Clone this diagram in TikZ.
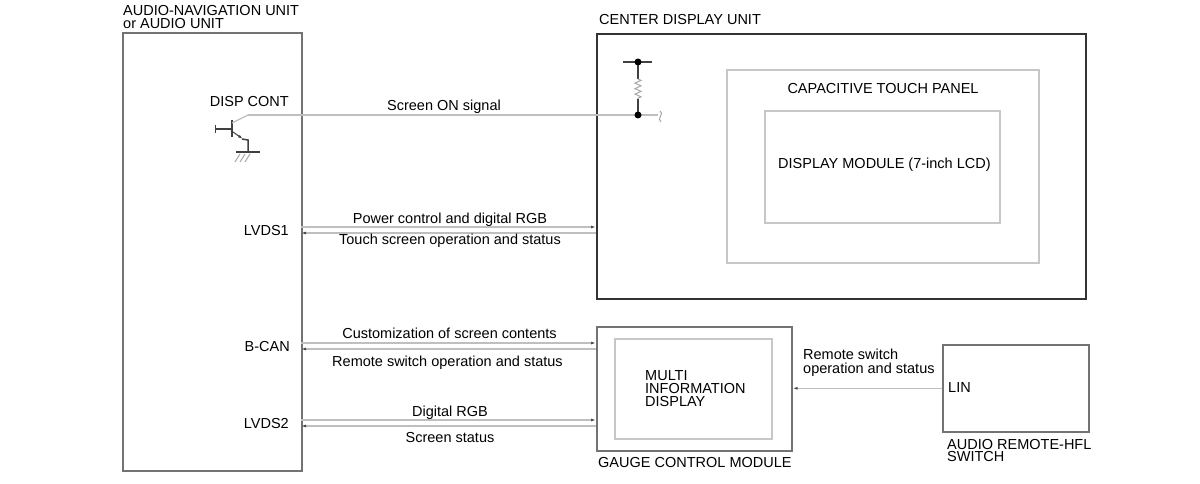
\documentclass[tikz,border=0pt]{standalone}
\usepackage{fontspec}
\setmainfont{Liberation Sans}
\usetikzlibrary{calc}
\usetikzlibrary{arrows.meta}
\usetikzlibrary{decorations.pathmorphing}
\tikzset{>=latex}
\tikzstyle{unit} = [draw = black!55, line width = 1.6pt, inner sep = 0, anchor = north west]
\tikzstyle{panel} = [draw = black!22, line width = 1.6pt, inner sep = 0, anchor = north west]
\tikzstyle{lbl} = [draw = none, inner sep = 0]
\tikzstyle{sig} = [draw = black!25, line width = 1.3pt]
\tikzstyle{tip} = [-{Latex[length = 5pt, width = 3pt, color = black!70]}]
\tikzstyle{part} = [draw = black!75, line width = 1.5pt]

\begin{document}
\begin{tikzpicture}[x = 1pt, y = -1pt, font = \fontsize{14.5}{14}\selectfont]
\useasboundingbox (0, 0) rectangle (1200, 484);
\node [unit, minimum width = 179pt, minimum height = 438pt] (ANU) at (122, 32) {};
\node [unit, draw = black!80, line width = 2pt, minimum width = 489pt, minimum height = 265pt] (CDU) at (596, 33) {};
\node [panel, minimum width = 312pt, minimum height = 193pt] (CTP) at (726, 69) {};
\node [panel, minimum width = 235pt, minimum height = 112pt] (DM) at (764, 110) {};
\node [unit, minimum width = 195pt, minimum height = 124pt] (GCM) at (596, 326) {};
\node [panel, minimum width = 157pt, minimum height = 100pt] (MID) at (614, 338) {};
\node [unit, minimum width = 146pt, minimum height = 87pt] (ARS) at (942, 344) {};

\node [lbl, anchor = north west, align = left, font = \fontsize{14.5}{12.5}\selectfont] (ANUl) at (123, 5.5) {AUDIO-NAVIGATION UNIT\\or AUDIO UNIT};
\node [lbl, anchor = base west] (CDUl) at (599, 25) {CENTER DISPLAY UNIT};
\node [lbl, anchor = base] (CTPl) at (883, 94) {CAPACITIVE TOUCH PANEL};
\node [lbl, anchor = base west] (DMl) at (778, 169) {DISPLAY MODULE (7-inch LCD)};
\node [lbl, anchor = north west, align = left, font = \fontsize{14.5}{13.3}\selectfont] (MIDl) at (645, 370) {MULTI\\INFORMATION\\DISPLAY};
\node [lbl, anchor = base west] (GCMl) at (598, 467) {GAUGE CONTROL MODULE};
\node [lbl, anchor = base west] (LIN) at (948, 392) {LIN};
\node [lbl, anchor = north west, align = left, font = \fontsize{14.5}{12.5}\selectfont] (ARSl) at (947, 439) {AUDIO REMOTE-HFL\\SWITCH};

\node [lbl, anchor = base east] (DISP) at (289, 107) {DISP CONT};
\node [lbl, anchor = base east] (LVDSa) at (289, 235) {LVDS1};
\node [lbl, anchor = base east] (BCAN) at (290, 351) {B-CAN};
\node [lbl, anchor = base east] (LVDSb) at (289, 428) {LVDS2};

\coordinate (a1) at (301, 227);
\coordinate (a2) at (301, 233);
\coordinate (b1) at (301, 343);
\coordinate (b2) at (301, 349);
\coordinate (c1) at (301, 420);
\coordinate (c2) at (301, 426);
\draw [sig, tip] (a1) to (a1 -| CDU.west);
\draw [sig, tip] (a2 -| CDU.west) to (a2);
\draw [sig, tip] (b1) to (b1 -| GCM.west);
\draw [sig, tip] (b2 -| GCM.west) to (b2);
\draw [sig, tip] (c1) to (c1 -| GCM.west);
\draw [sig, tip] (c2 -| GCM.west) to (c2);
\draw [sig, tip] (ARS.west) to (ARS.west -| GCM.east);
\node [lbl, anchor = base] at (450, 223) {Power control and digital RGB};
\node [lbl, anchor = base] at (450, 244) {Touch screen operation and status};
\node [lbl, anchor = base] at (449.5, 338) {Customization of screen contents};
\node [lbl, anchor = base] at (447.5, 366) {Remote switch operation and status};
\node [lbl, anchor = base] at (450, 416) {Digital RGB};
\node [lbl, anchor = base] at (450, 442) {Screen status};
\node [lbl, anchor = north west, align = left, font = \fontsize{14.5}{14}\selectfont] at (803, 349) {Remote switch\\operation and status};

\coordinate (col) at (248, 115);
\coordinate (emi) at (248, 152);
\coordinate (scr) at (658, 115);
\coordinate (rtop) at (638, 62);
\coordinate (rbot) at (638, 115);
\draw [part, line width = 2pt] (232, 120) to (232, 137);
\draw [part] (215, 129) to (232, 129);
\draw [part, line width = 1pt] (215, 125) to (215, 133);
\draw [sig] (232, 123) to (col);
\draw [part, line width = 1pt, -{Latex[length = 5pt, width = 3pt]}] (233, 132) to (243, 139);
\draw [part] (242, 139) to (248, 140) to (emi);
\draw [part, line width = 1.2pt] (236, 152) to (260, 152);
\foreach \x in {235, 240, 245}
  \draw [black!35, line width = 1pt] (\x, 162) to (\x + 5, 154);
\draw [sig] (col) to (scr);
\node [lbl, anchor = base] at (444, 111) {Screen ON signal};

\draw [part] (623, 62) to (652, 62);
\draw [part] (rtop) to (638, 79);
\draw [black!35, line width = 1pt, decorate, decoration = {zigzag, segment length = 5.5pt, amplitude = 3pt}] (638, 79) to (638, 99);
\draw [part] (638, 99) to (rbot);
\fill (rtop) circle (3.5pt);
\fill (rbot) circle (3.5pt);
\draw [black!35, line width = 1pt] (660, 111) .. controls (665, 113) and (656, 119) .. (661, 122);
\end{tikzpicture}
\end{document}
